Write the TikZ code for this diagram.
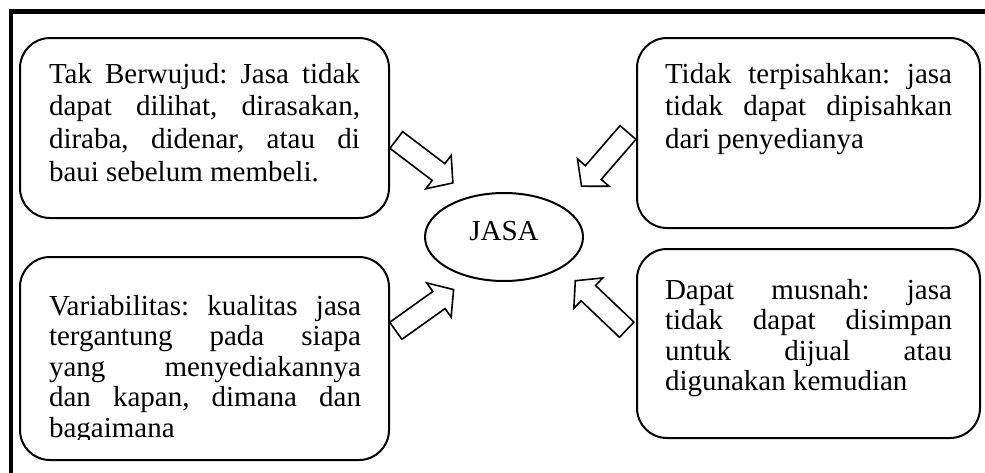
\documentclass[tikz,border=0pt]{standalone}
\usepackage{fontspec}
\setmainfont{Liberation Serif}
\hyphenpenalty=10000
\exhyphenpenalty=10000
\tolerance=10000
\frenchspacing
\setlength\parindent{0pt}
\tikzset{
  frameline/.style={line width=4.5pt, line cap=rect, line join=miter},
  infobox/.style={draw, line width=2pt, rounded corners=30pt, inner sep=0pt, minimum width=#1},
  infotext/.style={anchor=north west, inner sep=0pt, outer sep=0pt, text width=#1, align=justify,
    font=\fontsize{29}{32.7}\selectfont\frenchspacing},
  centerell/.style={draw, ellipse, line width=2pt, inner sep=0pt, minimum width=158pt, minimum height=88pt,
    font=\fontsize{29}{32}\selectfont, text height=19.2pt, text depth=13.2pt},
  arrowline/.style={draw, line width=1.6pt, line join=miter, fill=white},
  blockarrow/.pic={\path[arrowline] (0,-10.5) -- (53,-10.5) -- (53,-21) -- (71,0) -- (53,21) -- (53,10.5) -- (0,10.5) -- cycle;}
}
\usetikzlibrary{shapes.geometric}
\begin{document}
\begin{tikzpicture}[x=1pt, y=-1pt]
\useasboundingbox (0,0) rectangle (985,472);
\clip (0,0) rectangle (985,472);
% outer frame (only top and left edges visible)
\draw[frameline] (11,480) -- (11,11.5) -- (990,11.5);

% boxes
\node[infobox=369pt, minimum height=180pt] (boxTL) at (204.5,128) {};
\node[infobox=343pt, minimum height=190pt] (boxTR) at (808.5,133) {};
\node[infobox=369pt, minimum height=203pt] (boxBL) at (204.5,358.5) {};
\node[infobox=343pt, minimum height=189pt] (boxBR) at (808.5,343.5) {};

% texts
\node[infotext=311pt] (txtTL) at (49,63) {Tak Berwujud: Jasa tidak\linebreak dapat dilihat, dirasakan,\linebreak diraba, didenar, atau di\linebreak baui sebelum membeli.};
\node[infotext=287pt] (txtTR) at (665,63) {Tidak terpisahkan: jasa\linebreak tidak dapat dipisahkan\linebreak dari penyedianya};
\begin{scope}
\clip (20,257) rectangle (389,439);
\node[infotext=312pt, font=\fontsize{29}{30.6}\selectfont\frenchspacing] (txtBL) at (49,295) {Variabilitas: kualitas jasa\linebreak tergantung pada siapa\linebreak yang menyediakannya\linebreak dan kapan, dimana dan\linebreak bagaimana};
\end{scope}
\node[infotext=287pt, font=\fontsize{29}{30.6}\selectfont\frenchspacing] (txtBR) at (665,279) {Dapat musnah: jasa\linebreak tidak dapat disimpan\linebreak untuk dijual atau\linebreak digunakan kemudian};

% centre
\node[centerell] (jasa) at (504,237) {JASA};

% block arrows
\pic[rotate=-37.2] at (396.3,140) {blockarrow};
\pic[rotate=-130.9] at (628,132.5) {blockarrow};
\pic[rotate=35.5] at (395.8,330.8) {blockarrow};
\pic[rotate=136.4] at (626.7,329.7) {blockarrow};
\end{tikzpicture}
\end{document}
